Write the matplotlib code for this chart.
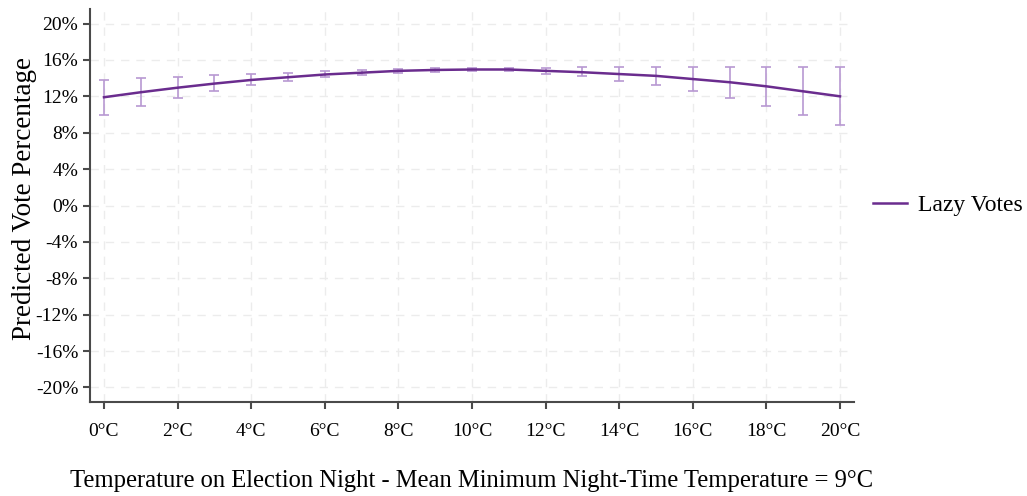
import matplotlib
matplotlib.use("Agg")
import matplotlib.pyplot as plt
from matplotlib.ticker import FuncFormatter

# Predicted share of "lazy" votes by election-night temperature (°C)
temps = list(range(0, 21))
predicted = [11.9, 12.45, 12.95, 13.4, 13.8, 14.1, 14.4, 14.6, 14.8, 14.9, 14.95,
             14.95, 14.8, 14.65, 14.45, 14.25, 13.9, 13.55, 13.1, 12.55, 12.0]
ci_low = [9.9, 10.9, 11.8, 12.6, 13.2, 13.7, 14.1, 14.35, 14.6, 14.7, 14.75,
          14.75, 14.47, 14.2, 13.7, 13.26, 12.6, 11.8, 10.95, 10.0, 8.9]
ci_high = [13.8, 14.0, 14.1, 14.3, 14.5, 14.6, 14.75, 14.85, 15.0, 15.1, 15.15,
           15.1, 15.16, 15.2, 15.2, 15.2, 15.2, 15.25, 15.25, 15.25, 15.25]

x_ticks = list(range(0, 21, 2))
y_ticks = list(range(-20, 21, 4))

plt.rcParams["font.family"] = ["Liberation Serif", "DejaVu Serif"]

fig = plt.figure(figsize=(10.27, 4.96), dpi=100)
ax = fig.add_axes([90 / 1027, 94 / 496, 764 / 1027, 393 / 496])

line_color = "#6a2c8e"
bar_color = "#b898d2"

err_lo = [p - l for p, l in zip(predicted, ci_low)]
err_hi = [h - p for p, h in zip(predicted, ci_high)]
ax.errorbar(temps, predicted, yerr=[err_lo, err_hi], fmt="none",
            ecolor=bar_color, elinewidth=1.2, capsize=3.5, capthick=1.2, zorder=2)
ax.plot(temps, predicted, color=line_color, lw=1.8, zorder=3, label="Lazy Votes")

ax.set_xlim(-0.38, 20.38)
ax.set_ylim(-21.6, 21.6)
ax.set_xticks(x_ticks)
ax.set_yticks(y_ticks)
ax.xaxis.set_major_formatter(FuncFormatter(lambda v, _: f"{int(v)}°C"))
ax.yaxis.set_major_formatter(FuncFormatter(lambda v, _: f"{int(v)}%"))

ax.grid(True, color="#ececec", linestyle=(0, (6, 5)), linewidth=1.0, zorder=0)
for side in ("top", "right"):
    ax.spines[side].set_visible(False)
for side in ("left", "bottom"):
    ax.spines[side].set_color("#4a4a4a")
    ax.spines[side].set_linewidth(1.5)
ax.tick_params(axis="both", colors="#4a4a4a", length=5, width=1.5, labelcolor="black",
               labelsize=14)
ax.tick_params(axis="x", pad=10)

ax.set_ylabel("Predicted Vote Percentage", fontsize=19.5)
ax.yaxis.set_label_coords(-0.070, 0.519)
ax.set_xlabel("Temperature on Election Night - Mean Minimum Night-Time Temperature = 9°C",
              fontsize=17.7, labelpad=22)

ax.legend(loc="center left", bbox_to_anchor=(1.025, 0.5), frameon=False, fontsize=17,
          handlelength=1.45, handletextpad=0.47, borderpad=0, borderaxespad=0)

fig.savefig("out.png", dpi=100)
